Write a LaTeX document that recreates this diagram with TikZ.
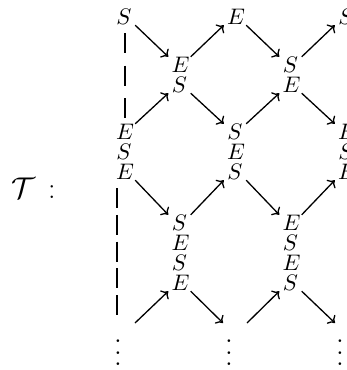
\documentclass[tikz,border=0pt]{standalone}
\usetikzlibrary{arrows.meta}
\DeclareFontShape{OML}{cmm}{m}{it}{<->cmmi10}{}
\DeclareFontShape{OMS}{cmsy}{m}{n}{<->cmsy10}{}
\DeclareFontShape{OT1}{cmr}{m}{n}{<->cmr10}{}
\begin{document}
\begin{tikzpicture}[x=1pt,y=-1pt,
  lt/.style={font=\fontsize{22.5}{27}\selectfont, text height=14pt, text depth=0pt, text width=16pt, align=center, inner xsep=3pt, inner ysep=1pt},
  arr/.style={line width=1.3pt, -{To[length=6pt,width=12pt]}},
  dsh/.style={line width=1.3pt},
  vd/.style={font=\fontsize{33}{38}\selectfont, inner sep=0pt, anchor=base}]
\path[use as bounding box] (0,0) rectangle (347,370);
\clip (0,0) rectangle (347,370);
% label
\node[anchor=base west, inner sep=0pt, font=\fontsize{30}{36}\selectfont] (T) at (11,198) {$\mathcal{T}$\hspace{13pt}:};
% row 0
\node[lt] (a0) at (124,17) {$S$};
\node[lt] (c0) at (235,17) {$E$};
\node[lt] (e0) at (346,17) {$S$};
% pairs
\node[lt] (b1) at (179.5,65) {$E$};
\node[lt] (b2) at (179.5,85) {$S$};
\node[lt] (d1) at (290.5,65) {$S$};
\node[lt] (d2) at (290.5,85) {$E$};
% middle stacks
\node[lt] (a3) at (124,132) {$E$};
\node[lt] (a4) at (124,152) {$S$};
\node[lt] (a5) at (124,172) {$E$};
\node[lt] (c3) at (235,132) {$S$};
\node[lt] (c4) at (235,152) {$E$};
\node[lt] (c5) at (235,172) {$S$};
\node[lt] (e3) at (346,132) {$E$};
\node[lt] (e4) at (346,152) {$S$};
\node[lt] (e5) at (346,172) {$E$};
% lower stacks
\node[lt] (b6) at (179.5,223) {$S$};
\node[lt] (b7) at (179.5,243) {$E$};
\node[lt] (b8) at (179.5,263) {$S$};
\node[lt] (b9) at (179.5,283) {$E$};
\node[lt] (d6) at (290.5,223) {$E$};
\node[lt] (d7) at (290.5,243) {$S$};
\node[lt] (d8) at (290.5,263) {$E$};
\node[lt] (d9) at (290.5,283) {$S$};
% free ends
\coordinate (f1) at (135,323);
\coordinate (f2) at (223,323);
\coordinate (f3) at (247,323);
\coordinate (f4) at (335,323);
\coordinate (g1) at (117,188);
\coordinate (g2) at (117,315);
% arrows
\draw[arr] (a0.south east) -- (b1.north west);
\draw[arr] (b1.north east) -- (c0.south west);
\draw[arr] (c0.south east) -- (d1.north west);
\draw[arr] (d1.north east) -- (e0.south west);
\draw[arr] (a3.north east) -- (b2.south west);
\draw[arr] (b2.south east) -- (c3.north west);
\draw[arr] (c3.north east) -- (d2.south west);
\draw[arr] (d2.south east) -- (e3.north west);
\draw[arr] (a5.south east) -- (b6.north west);
\draw[arr] (b6.north east) -- (c5.south west);
\draw[arr] (c5.south east) -- (d6.north west);
\draw[arr] (d6.north east) -- (e5.south west);
\draw[arr] (f1) -- (b9.south west);
\draw[arr] (b9.south east) -- (f2);
\draw[arr] (f3) -- (d9.south west);
\draw[arr] (d9.south east) -- (f4);
% dashed
\draw[dsh, dash pattern=on 20pt off 12.5pt, shorten <=8pt, shorten >=6pt] ([xshift=1pt]a0.south) -- ([xshift=1pt]a3.north);
\draw[dsh, dash pattern=on 20pt off 6.75pt] (g1) -- (g2);
% vdots: three dots per column
\foreach \c/\x in {1/118,2/229,3/340}{
  \foreach \r/\y in {1/342.5,2/354,3/365.5}{
    \node[vd] (v\c\r) at (\x,\y) {.};
  }
}
\end{tikzpicture}
\end{document}
